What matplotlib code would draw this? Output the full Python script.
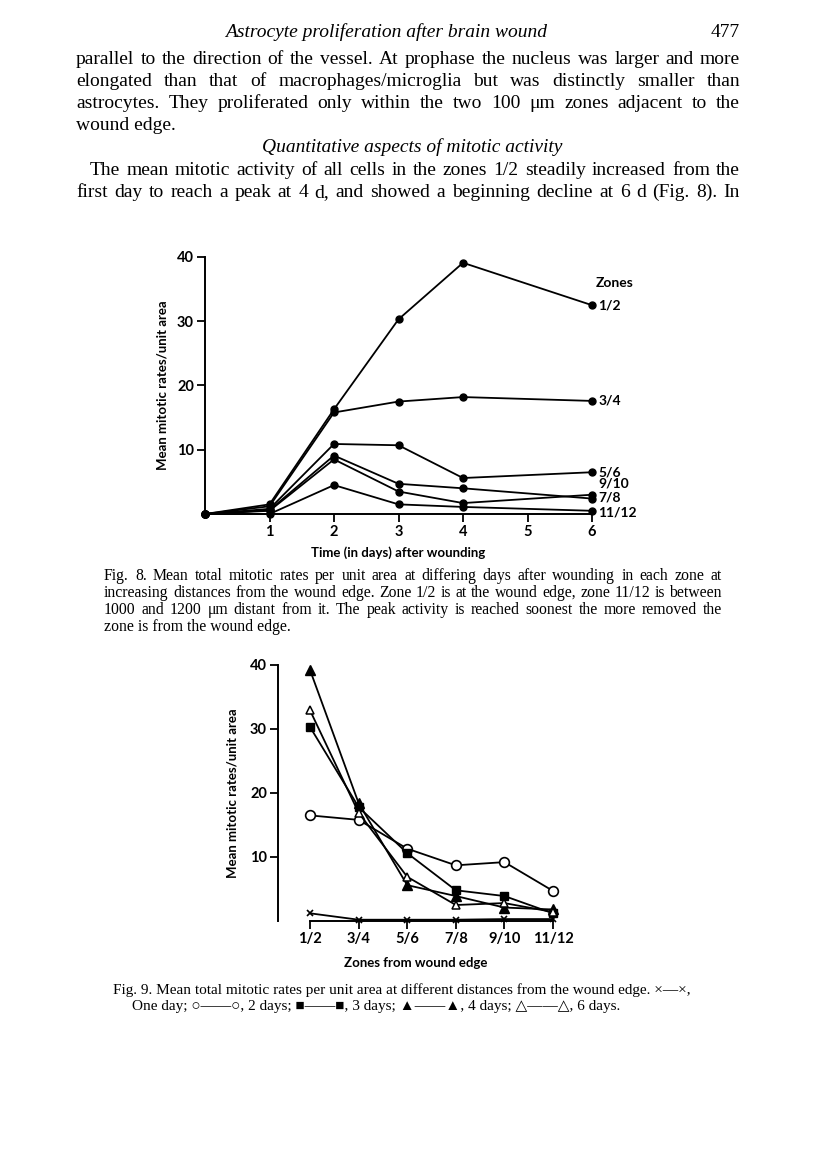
import matplotlib.pyplot as plt

W, H = 816, 1160

# ---- data ----
days = [0, 1, 2, 3, 4, 6]
zones = ["1/2", "3/4", "5/6", "7/8", "9/10", "11/12"]

# Fig. 8: mean mitotic rate per zone against days after wounding
zone_1_2 = [0, 1.5, 16.3, 30.3, 39.1, 32.5]
zone_3_4 = [0, 1.2, 15.8, 17.5, 18.2, 17.6]
zone_5_6 = [0, 0.8, 10.9, 10.7, 5.6, 6.5]
zone_7_8 = [0, 0.5, 8.5, 3.5, 1.7, 3.0]
zone_9_10 = [0, 0.6, 9.1, 4.7, 4.0, 2.4]
zone_11_12 = [0, 0.0, 4.5, 1.5, 1.1, 0.5]
fig8_series = [zone_1_2, zone_3_4, zone_5_6, zone_7_8, zone_9_10, zone_11_12]

# Fig. 9: mean mitotic rate against zone, one line per day
one_day = [1.2, 0.2, 0.2, 0.2, 0.3, 0.3]
two_days = [16.5, 15.8, 11.3, 8.7, 9.2, 4.7]
three_days = [30.3, 17.8, 10.6, 4.8, 3.9, 1.2]
four_days = [39.2, 18.4, 5.6, 3.9, 2.1, 1.8]
six_days = [32.9, 16.9, 6.9, 2.5, 2.8, 1.4]

serif = ["Liberation Serif", "DejaVu Sans"]
sans = ["Lato", "DejaVu Sans"]

fig = plt.figure(figsize=(W / 100, H / 100), dpi=100)


def put(text, x, y, size, style="normal", ha="left"):
    fig.text(x / W, 1 - y / H, text, fontsize=size, family=serif,
             style=style, ha=ha, va="baseline")


def justified(text, y, x0, x1, size):
    r = fig.canvas.get_renderer()
    words = text.split()
    objs = [fig.text(0, 1 - y / H, w, fontsize=size, family=serif, va="baseline")
            for w in words]
    widths = [o.get_window_extent(r).width for o in objs]
    gap = (x1 - x0 - sum(widths)) / (len(words) - 1)
    x = x0
    for o, w in zip(objs, widths):
        o.set_x(x / W)
        x += w + gap


# ---- page text ----
body = 14
put("Astrocyte proliferation after brain wound", 386, 37, body, style="italic", ha="center")
put("477", 740, 37, body, ha="right")

justified("parallel to the direction of the vessel. At prophase the nucleus was larger and more", 64, 76, 740, body)
justified("elongated than that of macrophages/microglia but was distinctly smaller than", 86, 76, 740, body)
justified("astrocytes. They proliferated only within the two 100 \u03bcm zones adjacent to the", 108, 76, 740, body)
put("wound edge.", 76, 130, body)
put("Quantitative aspects of mitotic activity", 412, 152, body, style="italic", ha="center")
justified("The mean mitotic activity of all cells in the zones 1/2 steadily increased from the", 175, 90, 740, body)
justified("first day to reach a peak at 4 d, and showed a beginning decline at 6 d (Fig. 8). In", 197, 76, 740, body)

cap = 11.3
justified("Fig. 8. Mean total mitotic rates per unit area at differing days after wounding in each zone at", 580, 104, 722, cap)
justified("increasing distances from the wound edge. Zone 1/2 is at the wound edge, zone 11/12 is between", 597, 104, 722, cap)
justified("1000 and 1200 \u03bcm distant from it. The peak activity is reached soonest the more removed the", 614, 104, 722, cap)
put("zone is from the wound edge.", 104, 631, cap)

put("Fig. 9. Mean total mitotic rates per unit area at different distances from the wound edge. \u00d7\u2014\u00d7,", 113, 994, 11)
put("One day; \u25cb\u2014\u2014\u25cb, 2 days; \u25a0\u2014\u2014\u25a0, 3 days; \u25b2\u2014\u2014\u25b2, 4 days; \u25b3\u2014\u2014\u25b3, 6 days.", 132, 1010, 11)


def style_axes(ax):
    for s in ["top", "right"]:
        ax.spines[s].set_visible(False)
    for s in ["left", "bottom"]:
        ax.spines[s].set_linewidth(1.4)
    ax.tick_params(direction="out", length=6, width=1.3, labelsize=10.5, pad=2)
    for lab in ax.get_xticklabels() + ax.get_yticklabels():
        lab.set_family(sans)
        lab.set_fontweight("bold")
    ax.patch.set_visible(False)


# ---- Fig. 8 ----
ax1 = fig.add_axes([205 / W, 1 - 514 / H, 387 / W, 257 / H])
for vals in fig8_series:
    ax1.plot(days, vals, color="black", lw=1.3, marker="o", ms=5, clip_on=False, zorder=3)
ax1.set_xlim(0, 6)
ax1.set_ylim(0, 40)
ax1.set_xticks([1, 2, 3, 4, 5, 6])
ax1.set_yticks([10, 20, 30, 40])
style_axes(ax1)
ax1.set_ylabel("Mean mitotic rates/unit area", family=sans, fontweight="bold", fontsize=9.5, labelpad=6)
ax1.set_xlabel("Time (in days) after wounding", family=sans, fontweight="bold", fontsize=9.5, labelpad=5)

label_shift = {"7/8": -0.4, "9/10": 2.3, "11/12": -0.2}
ax1.text(6.05, 36, "Zones", family=sans, fontweight="bold", fontsize=10, va="center")
for name, vals in zip(zones, fig8_series):
    ax1.text(6.1, vals[-1] + label_shift.get(name, 0), name, family=sans,
             fontweight="bold", fontsize=10, va="center")

# ---- Fig. 9 ----
xi = list(range(len(zones)))
ax2 = fig.add_axes([278 / W, 1 - 921 / H, 275 / W, 256 / H])
kw = dict(color="black", lw=1.3, clip_on=False, zorder=3)
ax2.plot(xi, one_day, marker="x", ms=5, mew=1.2, **kw)
ax2.plot(xi, two_days, marker="o", ms=7, mfc="white", mew=1.2, **kw)
ax2.plot(xi, three_days, marker="s", ms=6, **kw)
ax2.plot(xi, four_days, marker="^", ms=7, **kw)
ax2.plot(xi, six_days, marker="^", ms=6, mfc="white", mew=1.1, **kw)
ax2.set_xlim(-0.66, 5)
ax2.set_ylim(0, 40)
ax2.spines["bottom"].set_bounds(0, 5)
ax2.set_xticks(xi)
ax2.set_xticklabels(zones)
ax2.set_yticks([10, 20, 30, 40])
style_axes(ax2)
ax2.set_ylabel("Mean mitotic rates/unit area", family=sans, fontweight="bold", fontsize=9.5, labelpad=8)
ax2.set_xlabel("Zones from wound edge", family=sans, fontweight="bold", fontsize=9.5, labelpad=8)

fig.savefig("out.png", dpi=100)
